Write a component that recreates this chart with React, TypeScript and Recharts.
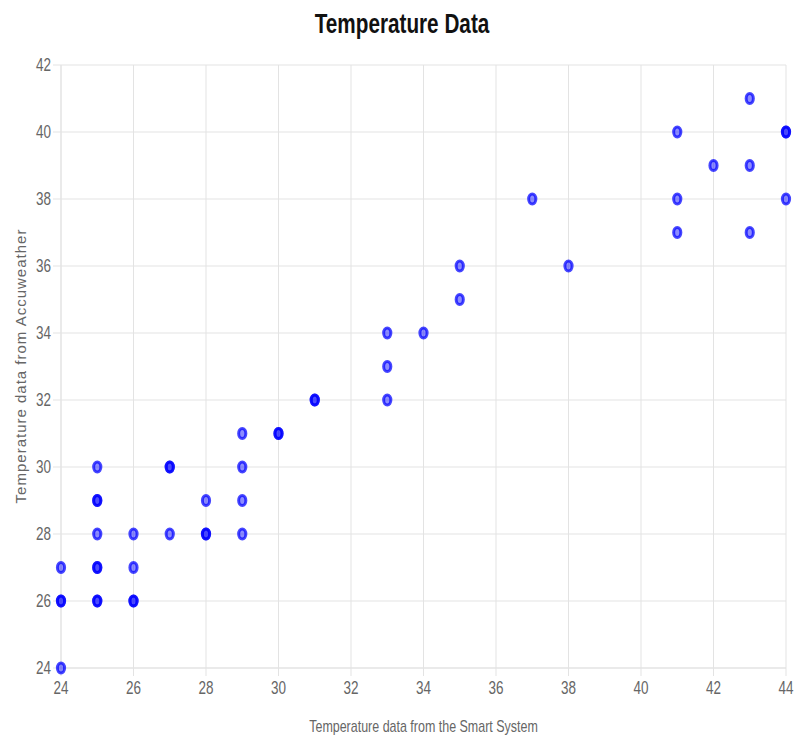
import { ScatterChart, Scatter, XAxis, YAxis, CartesianGrid } from "recharts"

// readings from the smart system (x) and Accuweather (y), one entry per reading
const smartSystem = [
  24, 24, 24, 24,
  25, 25, 25, 25, 25, 25, 25, 25,
  26, 26, 26, 26,
  27, 27, 27,
  28, 28, 28,
  29, 29, 29, 29,
  30, 30,
  31, 31,
  33, 33, 33,
  34,
  35, 35,
  37,
  38,
  41, 41, 41,
  42,
  43, 43, 43,
  44, 44, 44,
]
const accuweather = [
  27, 26, 26, 24,
  30, 29, 29, 28, 27, 27, 26, 26,
  28, 27, 26, 26,
  30, 30, 28,
  29, 28, 28,
  31, 30, 29, 28,
  31, 31,
  32, 32,
  34, 33, 32,
  34,
  36, 35,
  38,
  36,
  40, 38, 37,
  39,
  41, 39, 37,
  40, 40, 38,
]
const xTicks = [24, 26, 28, 30, 32, 34, 36, 38, 40, 42, 44]
const yTicks = [24, 26, 28, 30, 32, 34, 36, 38, 40, 42]

const data = smartSystem.map((x, i) => ({ x, y: accuweather[i] }))

// no narrow font installed, so squeeze Liberation Sans horizontally
const sans = "'Liberation Sans', Arial, sans-serif"
const squeeze = 0.75
const gridColor = "#e3e3e3"
const tickColor = "#666"

const Dot = (props: any) => {
  const { cx, cy } = props
  return (
    <ellipse
      cx={cx}
      cy={cy}
      rx={3.6}
      ry={5}
      fill="rgba(0,0,255,0.45)"
      stroke="rgba(0,0,255,0.72)"
      strokeWidth={3}
    />
  )
}

const XTick = ({ x, y, payload }: any) => (
  <text
    transform={`translate(${x},${y}) scale(${squeeze},1)`}
    textAnchor="middle"
    dy={13}
    fill={tickColor}
    fontSize={18}
    fontFamily={sans}
  >
    {payload.value}
  </text>
)

const YTick = ({ x, y, payload }: any) => (
  <text
    transform={`translate(${x},${y}) scale(${squeeze},1)`}
    textAnchor="end"
    dy={6}
    fill={tickColor}
    fontSize={18}
    fontFamily={sans}
  >
    {payload.value}
  </text>
)

export default function App() {
  return (
    <div style={{ position: "absolute", left: 0, top: 0, width: 795, height: 742, background: "#fff" }}>
      <ScatterChart width={795} height={742} margin={{ top: 65, right: 9, bottom: 34, left: 16 }}>
        <text
          transform={`translate(402,33) scale(0.74,1)`}
          textAnchor="middle"
          fill="#111"
          fontSize={28}
          fontWeight="bold"
          fontFamily={sans}
        >
          Temperature Data
        </text>
        <CartesianGrid stroke={gridColor} />
        <XAxis
          type="number"
          dataKey="x"
          domain={[24, 44]}
          ticks={xTicks}
          height={40}
          stroke={gridColor}
          tickSize={8}
          tickMargin={5}
          tick={<XTick />}
          label={{
            content: ({ viewBox }: any) => (
              <text
                transform={`translate(${viewBox.x + viewBox.width / 2},732) scale(0.78,1)`}
                textAnchor="middle"
                fill={tickColor}
                fontSize={16}
                fontFamily={sans}
              >
                Temperature data from the Smart System
              </text>
            ),
          }}
        />
        <YAxis
          type="number"
          dataKey="y"
          domain={[24, 42]}
          ticks={yTicks}
          width={45}
          stroke={gridColor}
          tickSize={8}
          tickMargin={2}
          tick={<YTick />}
          label={{
            content: () => (
              <text
                x={26}
                y={366}
                transform="rotate(-90, 26, 366)"
                textAnchor="middle"
                fill={tickColor}
                fontSize={15}
                letterSpacing={1}
                fontFamily={sans}
              >
                Temperature data from Accuweather
              </text>
            ),
          }}
        />
        <Scatter data={data} shape={<Dot />} isAnimationActive={false} />
      </ScatterChart>
    </div>
  )
}
